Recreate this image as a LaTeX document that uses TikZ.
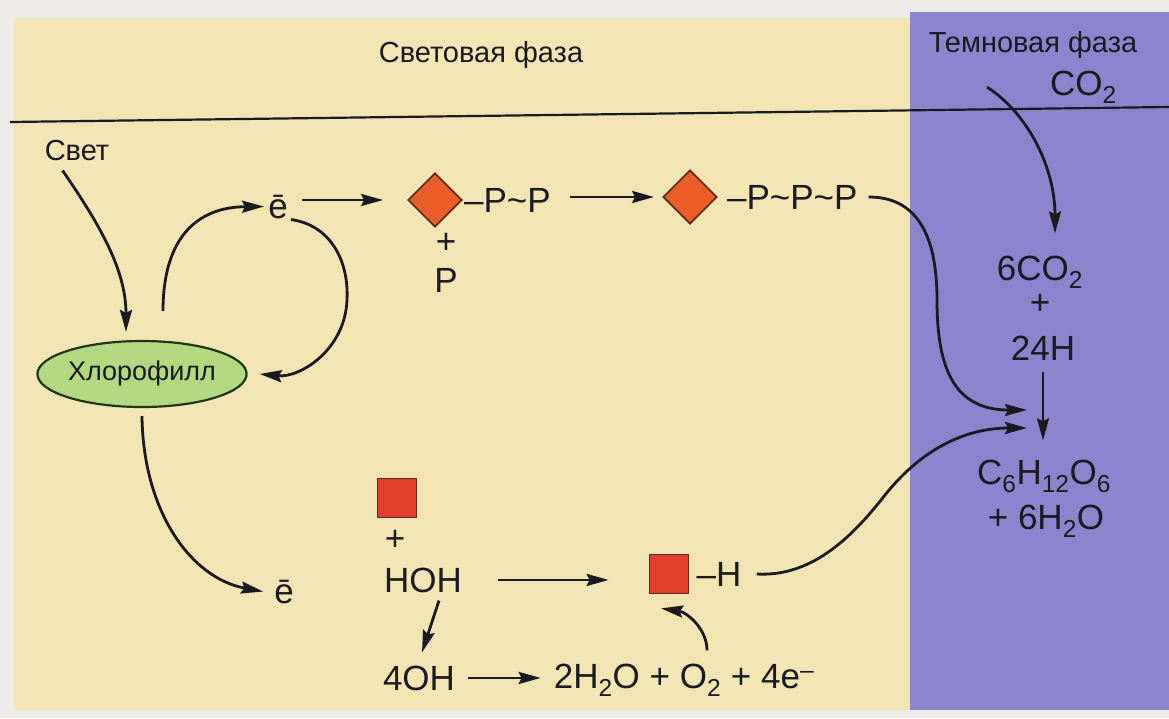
\documentclass[tikz,border=0pt]{standalone}
\usepackage{fontspec}
\setmainfont{Liberation Sans}
\usetikzlibrary{shapes.geometric, arrows.meta, positioning}

\definecolor{ink}{RGB}{26,26,32}
\definecolor{paper}{RGB}{236,235,232}
\definecolor{lightzone}{RGB}{243,228,180}
\definecolor{darkzone}{RGB}{140,133,205}
\definecolor{chlfill}{RGB}{178,216,128}
\definecolor{chledge}{RGB}{30,55,28}
\definecolor{atpfill}{RGB}{234,92,40}
\definecolor{nadpfill}{RGB}{228,62,42}
\definecolor{shapeedge}{RGB}{100,42,26}

\begin{document}
\begin{tikzpicture}[x=1pt, y=-1pt,
    lbl/.style={font=\fontsize{29}{33}\selectfont, text=ink, inner sep=1pt, anchor=base},
    chem/.style={font=\fontsize{35}{40}\selectfont, text=ink, inner sep=1pt, anchor=base},
    carrier/.style={diamond, draw=shapeedge, fill=atpfill, line width=1.8pt, inner sep=0pt, minimum width=54pt, minimum height=54pt},
    acceptor/.style={rectangle, draw=shapeedge, fill=nadpfill, line width=1.8pt, inner sep=0pt, minimum size=39pt},
    arrow/.style={-{Stealth[length=22pt, width=12pt, inset=3pt]}, line width=2.8pt, draw=ink}
]
    \useasboundingbox (0,0) rectangle (1169,718);
    \fill[paper] (0,0) rectangle (1169,718);
    \fill[lightzone] (14,18) rectangle (910,710);
    \fill[darkzone] (910,12) rectangle (1169,710);
    \draw[line width=2.2pt, ink] (10,122) -- (1169,107);

    % headings
    \node[lbl] (lightphase) at (481,62) {Световая фаза};
    \node[lbl] (darkphase) at (1033,52) {Темновая фаза};
    \node[chem, anchor=base west] (co2) at (1049,95) {CO\textsubscript{2}};
    \node[lbl] (svet) at (77,160) {Свет};

    % chlorophyll and electrons
    \node[ellipse, draw=chledge, fill=chlfill, line width=2.2pt, minimum width=193pt, minimum height=66pt,
          inner sep=0pt, font=\fontsize{27}{31}\selectfont, text=ink] (chl) at (142,374) {Хлорофилл};
    \node[chem] (e1) at (278,218) {ē};
    \node[chem] (e2) at (284,603) {ē};

    % ATP row
    \node[carrier] (dia1) at (435,200) {};
    \node[chem, right=0pt of dia1] (pp) {–P\textasciitilde P};
    \node[chem, anchor=center] (plus1) at (446,243) {+};
    \node[chem] (pi) at (446,292) {P};
    \node[carrier] (dia2) at (690,197) {};
    \node[chem, right=8pt of dia2] (ppp) {–P\textasciitilde P\textasciitilde P};

    % dark phase
    \node[chem] (co2six) at (1040,280) {6CO\textsubscript{2}};
    \node[chem, anchor=center] (plus3) at (1040,304) {+};
    \node[chem] (h24) at (1043,360) {24H};
    \node[chem] (gluc) at (1044,484) {C\textsubscript{6}H\textsubscript{12}O\textsubscript{6}};
    \node[chem] (water) at (1046,529) {+ 6H\textsubscript{2}O};
    \coordinate (join1) at (1027,410);
    \coordinate (join2) at (1027,428);

    % water splitting
    \node[acceptor] (sq1) at (397,498) {};
    \node[chem, anchor=center] (plus2) at (395,540) {+};
    \node[chem] (hoh) at (423,592) {HOH};
    \node[acceptor] (sq2) at (669,574) {};
    \node[chem, right=6pt of sq2] (hh) {–H};
    \node[chem] (oh4) at (419,690) {4OH};
    \node[chem] (prod) at (684,688) {2H\textsubscript{2}O + O\textsubscript{2} + 4e\textsuperscript{–}};

    % connectors
    \draw[arrow] ([xshift=19pt,yshift=-9pt]svet.south west) .. controls (100,225) and (126,270) .. ([xshift=-16pt,yshift=8pt]chl.north);
    \draw[arrow] ([xshift=21pt,yshift=29pt]chl.north) .. controls (163,240) and (195,207) .. ([xshift=-3pt]e1.west);
    \draw[arrow] ([xshift=2pt]e1.south east) .. controls (330,225) and (349,260) .. (347,300)
        .. controls (345,350) and (300,378) .. ([xshift=12pt]chl.east);
    \draw[arrow] ([yshift=-8pt]chl.south) .. controls (143,510) and (190,578) .. ([xshift=-10pt]e2.west);
    \draw[arrow, shorten <=13pt, shorten >=24pt] (e1.east |- dia1.west) -- (dia1.west);
    \draw[arrow, shorten <=18pt, shorten >=8pt] (pp.east |- dia2.west) -- (dia2.west);
    \draw[arrow] ([xshift=10pt]ppp.east) .. controls (915,197) and (937,232) .. (937,300)
        .. controls (937,370) and (955,410) .. (join1);
    \draw[arrow] ([xshift=-62pt]co2.west) .. controls (1030,115) and (1055,170) .. ([xshift=15pt,yshift=21pt]co2six.north);
    \draw[arrow, shorten <=11pt, shorten >=18pt] (h24.south) -- (h24.south |- gluc.north);
    \draw[arrow] ([xshift=14pt]hh.east) .. controls (810,577) and (850,540) .. (885,495)
        .. controls (925,445) and (970,428) .. (join2);
    \draw[arrow, shorten <=35pt, shorten >=40pt] (hoh.east) -- (hoh.east -| sq2.west);
    \draw[arrow] ([xshift=16pt,yshift=-7pt]hoh.south) -- ([xshift=3pt,yshift=12pt]oh4.north);
    \draw[arrow, shorten <=12pt, shorten >=12pt] (oh4.east) -- (oh4.east -| prod.west);
    \draw[arrow] ([xshift=23pt,yshift=12pt]prod.north) .. controls (707,628) and (686,612) .. ([xshift=-8pt,yshift=-14pt]sq2.south);
\end{tikzpicture}
\end{document}
